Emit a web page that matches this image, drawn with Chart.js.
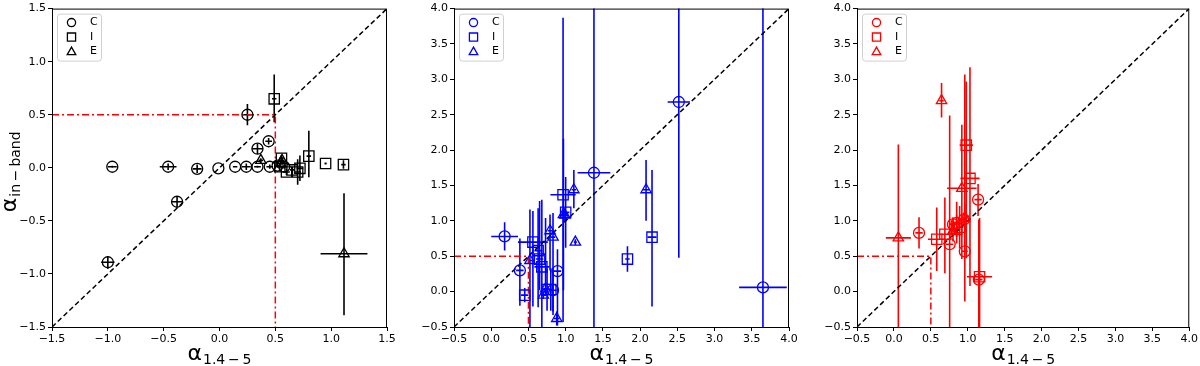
<!DOCTYPE html>
<html>
<head>
<meta charset="utf-8">
<script src="https://cdn.jsdelivr.net/npm/chart.js@4.4.1/dist/chart.umd.min.js"></script>
<style>
  body { margin: 0; background: #fff; width: 1200px; height: 366px; overflow: hidden; position: relative; }
  canvas { position: absolute; top: 0; }
</style>
</head>
<body>
<canvas id="p1" width="400" height="366" style="left:0px"></canvas>
<canvas id="p2" width="400" height="366" style="left:400px"></canvas>
<canvas id="p3" width="400" height="366" style="left:800px"></canvas>
<script>
// ---- data (alpha_1.4-5 on x, alpha_in-band on y) ----
const legendLabels = ['C', 'I', 'E']
const refLine = 0.5   // red dash-dot threshold

// panel 1 (black)
const p1cX    = [-0.96, -0.46, -0.20, -0.01, 0.14, 0.24, 0.34, 0.45, 0.44, 0.34, 0.25, -0.38, -1.00, 0.52, 0.58]
const p1cY    = [0.01, 0.01, -0.01, -0.005, 0.01, 0.01, 0.01, 0.01, 0.25, 0.18, 0.50, -0.32, -0.89, 0.02, 0.01]
const p1cXErr = [0.04, 0.075, 0.04, 0, 0.02, 0.04, 0.03, 0.03, 0.03, 0.05, 0.04, 0.05, 0.06, 0.03, 0.02]
const p1cYLo  = [0.01, 0.03, 0.04, 0, 0, 0.03, 0.01, 0.02, 0.03, 0.05, 0.10, 0.05, 0.06, 0.02, 0.02]
const p1cYHi  = [0.01, 0.03, 0.04, 0, 0, 0.03, 0.01, 0.02, 0.03, 0.05, 0.10, 0.05, 0.06, 0.02, 0.02]

const p1iX    = [0.49, 0.555, 0.54, 0.60, 0.70, 0.72, 0.80, 0.95, 1.11, 0.65]
const p1iY    = [0.65, 0.09, 0.01, -0.04, -0.04, -0.005, 0.11, 0.04, 0.03, -0.02]
const p1iXErr = [0.02, 0.02, 0.02, 0.03, 0.03, 0.03, 0.02, 0.01, 0.02, 0.02]
const p1iYLo  = [0.22, 0.03, 0.02, 0.03, 0.12, 0.12, 0.20, 0.01, 0.04, 0.03]
const p1iYHi  = [0.23, 0.03, 0.02, 0.03, 0.12, 0.12, 0.24, 0.01, 0.04, 0.03]

const p1eX    = [1.115, 0.37, 0.56, 0.55]
const p1eY    = [-0.81, 0.07, 0.07, 0.04]
const p1eXErr = [0.21, 0.02, 0.02, 0.01]
const p1eYLo  = [0.58, 0.02, 0.03, 0.02]
const p1eYHi  = [0.57, 0.02, 0.03, 0.02]

// panel 2 (blue)
const p2cX    = [0.18, 0.385, 0.89, 0.83, 1.38, 2.52, 3.65]
const p2cY    = [0.78, 0.30, 0.29, 0.02, 1.68, 2.68, 0.06]
const p2cXErr = [0.18, 0.05, 0.05, 0.05, 0.22, 0.15, 0.32]
const p2cYLo  = [0.20, 0.50, 0.77, 0.30, 2.50, 2.20, 1.00]
const p2cYHi  = [0.20, 0.45, 0.31, 0.30, 2.50, 2.50, 4.00]

const p2iX    = [0.965, 1.00, 2.16, 1.83, 0.45, 0.56, 0.63, 0.65, 0.68, 0.75, 0.80]
const p2iY    = [1.37, 1.12, 0.77, 0.46, -0.05, 0.70, 0.58, 0.46, 0.35, 0.03, 0.03]
const p2iXErr = [0.17, 0.05, 0.06, 0.03, 0.05, 0.20, 0.05, 0.05, 0.10, 0.04, 0.04]
const p2iYLo  = [1.80, 0.50, 0.98, 0.18, 0.10, 0.91, 0.80, 0.44, 0.90, 0.30, 0.30]
const p2iYHi  = [2.50, 0.50, 0.95, 0.18, 0.10, 0.44, 0.60, 0.82, 0.95, 0.30, 0.30]

const p2eX    = [1.11, 2.08, 1.13, 0.79, 0.83, 0.88, 0.70, 0.73, 0.97, 0.52, 0.99]
const p2eY    = [1.44, 1.44, 0.70, 0.86, 0.77, -0.38, -0.05, 0.04, 1.09, 0.44, 1.08]
const p2eXErr = [0.03, 0.04, 0.02, 0.03, 0.03, 0.04, 0.03, 0.03, 0.04, 0.03, 0.04]
const p2eYLo  = [0.26, 0.44, 0.04, 0.56, 1.10, 0.10, 0.05, 0.10, 1.07, 1.00, 0.10]
const p2eYHi  = [0.28, 0.42, 0.04, 0.23, 0.34, 0.10, 0.05, 1.00, 1.07, 0.72, 0.10]

// panel 3 (red)
const p3cX    = [0.34, 1.14, 0.96, 0.755, 0.80, 0.85, 1.15, 0.95]
const p3cY    = [0.83, 1.30, 0.57, 0.67, 0.95, 0.97, 0.17, 1.02]
const p3cXErr = [0.05, 0.05, 0.04, 0.05, 0.05, 0.05, 0.05, 0.04]
const p3cYLo  = [0.22, 0.23, 0.71, 1.20, 0.10, 0.20, 0.70, 0.10]
const p3cYHi  = [0.22, 0.22, 2.50, 1.82, 0.10, 0.30, 0.85, 0.10]

const p3iX    = [0.98, 1.03, 0.58, 0.69, 1.16, 0.89, 0.85]
const p3iY    = [2.07, 1.60, 0.74, 0.81, 0.21, 0.91, 0.88]
const p3iXErr = [0.09, 0.13, 0.12, 0.06, 0.17, 0.05, 0.05]
const p3iYLo  = [1.60, 1.52, 0.45, 0.55, 0.80, 0.30, 0.20]
const p3iYHi  = [0.90, 1.57, 0.45, 0.52, 0.83, 0.30, 0.20]

const p3eX    = [0.645, 0.06, 0.92, 0.96, 0.80]
const p3eY    = [2.70, 0.76, 1.46, 1.04, 0.86]
const p3eXErr = [0.03, 0.17, 0.20, 0.04, 0.04]
const p3eYLo  = [0.24, 1.30, 1.00, 0.20, 0.15]
const p3eYHi  = [0.25, 1.32, 0.90, 0.20, 0.15]

// ---- helpers ----
const fmt = v => (v < 0 ? '\u2212' : '') + Math.abs(v).toFixed(1)
const tickFont = { family: 'DejaVu Sans', size: 11 }

function pts(xs, ys) { return xs.map((x, i) => ({ x: x, y: ys[i] })) }

function markerSet(xs, ys, xe, lo, hi, style, r, color) {
  return {
    data: pts(xs, ys),
    pointStyle: style,
    pointRadius: r,
    pointHoverRadius: r,
    borderWidth: 1.3,
    borderColor: color,
    backgroundColor: 'rgba(0,0,0,0)',
    errX: xe, errLo: lo, errHi: hi
  }
}

function drawMarker(ctx, style, x, y, s) {
  ctx.beginPath()
  if (style == 'circle') ctx.arc(x, y, s, 0, Math.PI * 2)
  else if (style == 'rect') ctx.rect(x - s, y - s, 2 * s, 2 * s)
  else {
    ctx.moveTo(x, y - s * 1.1)
    ctx.lineTo(x + s * 1.05, y + s * 0.75)
    ctx.lineTo(x - s * 1.05, y + s * 0.75)
    ctx.closePath()
  }
  ctx.stroke()
}

// error bars drawn from the data through the scales
const errorBars = {
  id: 'errorBars',
  beforeDatasetsDraw(chart) {
    const { ctx, chartArea: a, scales: { x, y } } = chart
    ctx.save()
    ctx.beginPath()
    ctx.rect(a.left, a.top, a.right - a.left, a.bottom - a.top)
    ctx.clip()
    chart.data.datasets.forEach(ds => {
      if (!ds.errX) return
      ctx.strokeStyle = ds.borderColor
      ctx.lineWidth = 1.6
      ds.data.forEach((p, i) => {
        const px = x.getPixelForValue(p.x), py = y.getPixelForValue(p.y)
        ctx.beginPath()
        if (ds.errX[i]) {
          ctx.moveTo(x.getPixelForValue(p.x - ds.errX[i]), py)
          ctx.lineTo(x.getPixelForValue(p.x + ds.errX[i]), py)
        }
        if (ds.errLo[i] || ds.errHi[i]) {
          ctx.moveTo(px, y.getPixelForValue(p.y - ds.errLo[i]))
          ctx.lineTo(px, y.getPixelForValue(p.y + ds.errHi[i]))
        }
        ctx.stroke()
      })
    })
    ctx.restore()
  }
}

// frame, legend box and math-style axis titles
const decor = {
  id: 'decor',
  afterDraw(chart) {
    const { ctx, chartArea: a } = chart
    const o = chart.options.plugins.decor
    ctx.save()
    ctx.strokeStyle = '#000'
    ctx.lineWidth = 1
    ctx.strokeRect(a.left + 0.5, a.top + 0.5, a.right - a.left - 1, a.bottom - a.top)

    // legend
    const lx = a.left + 5, ly = a.top + 5, lw = 44, lh = 47
    ctx.beginPath()
    ctx.roundRect(lx + 0.5, ly + 0.5, lw, lh, 3)
    ctx.fillStyle = 'rgba(255,255,255,0.8)'
    ctx.fill()
    ctx.strokeStyle = '#d0d0d0'
    ctx.stroke()
    const styles = ['circle', 'rect', 'triangle']
    ctx.font = '11px "DejaVu Sans"'
    ctx.textBaseline = 'middle'
    legendLabels.forEach((lab, i) => {
      const my = ly + 9 + i * 14.5
      ctx.strokeStyle = o.color
      ctx.lineWidth = 1.3
      drawMarker(ctx, styles[i], lx + 14.5, my, 4.1)
      ctx.fillStyle = '#000'
      ctx.fillText(lab, lx + 33, my)
    })

    // x title: alpha_{1.4-5}
    ctx.fillStyle = '#000'
    ctx.textBaseline = 'alphabetic'
    const big = '22px "DejaVu Sans"', small = '14px "DejaVu Sans"'
    const sx = '1.4\u2009\u2212\u20095'
    ctx.font = big; const w1 = ctx.measureText('\u03b1').width
    ctx.font = small; const w2 = ctx.measureText(sx).width
    let cx = (a.left + a.right) / 2 - (w1 + 1 + w2) / 2
    ctx.font = big; ctx.fillText('\u03b1', cx, 360)
    ctx.font = small; ctx.fillText(sx, cx + w1 + 1, 364)

    // y title only on first panel
    if (o.yTitle) {
      const sy = 'in\u2009\u2212\u2009band'
      ctx.font = small; const w3 = ctx.measureText(sy).width
      ctx.translate(16, (a.top + a.bottom) / 2 + 4)
      ctx.rotate(-Math.PI / 2)
      const st = -(w1 + 1 + w3) / 2
      ctx.font = big; ctx.fillText('\u03b1', st, 0)
      ctx.font = small; ctx.fillText(sy, st + w1 + 1, 4)
    }
    ctx.restore()
  }
}

function axis(min, max, fitKey, fitVal) {
  return {
    type: 'linear', min: min, max: max,
    ticks: { stepSize: 0.5, callback: fmt, font: tickFont, color: '#000', padding: 2, autoSkip: false, maxRotation: 0 },
    grid: { display: true, drawOnChartArea: false, drawTicks: true, tickLength: 4, color: '#000' },
    border: { display: true, color: '#000', width: 1 },
    afterFit: s => { s[fitKey] = fitVal }
  }
}

function makePanel(id, color, lo, hi, sets, leftW, rightPad, yTitle) {
  const [c, i, e] = sets
  new Chart(document.getElementById(id), {
    type: 'scatter',
    data: {
      datasets: [
        markerSet(c[0], c[1], c[2], c[3], c[4], 'circle', 5.5, color),
        markerSet(i[0], i[1], i[2], i[3], i[4], 'rect', 7.3, color),
        markerSet(e[0], e[1], e[2], e[3], e[4], 'triangle', 6, color),
        {
          data: [{ x: lo, y: refLine }, { x: refLine, y: refLine }, { x: refLine, y: lo }],
          showLine: true, borderColor: '#ff0000', borderWidth: 1.5,
          borderDash: [7, 3, 2, 3], pointRadius: 0
        },
        {
          data: [{ x: lo, y: lo }, { x: hi, y: hi }],
          showLine: true, borderColor: '#000', borderWidth: 1.5,
          borderDash: [5, 3], pointRadius: 0
        }
      ]
    },
    options: {
      responsive: false,
      animation: false,
      devicePixelRatio: 1,
      layout: { padding: { top: 5, right: rightPad, left: 0, bottom: 0 } },
      scales: {
        x: axis(lo, hi, 'height', 39),
        y: axis(lo, hi, 'width', leftW)
      },
      plugins: {
        legend: { display: false },
        tooltip: { enabled: false },
        decor: { color: color, yTitle: yTitle }
      }
    },
    plugins: [errorBars, decor]
  })
}

makePanel('p1', '#000', -1.5, 1.5, [
  [p1cX, p1cY, p1cXErr, p1cYLo, p1cYHi],
  [p1iX, p1iY, p1iXErr, p1iYLo, p1iYHi],
  [p1eX, p1eY, p1eXErr, p1eYLo, p1eYHi]
], 52, 13, true)

makePanel('p2', '#0000ff', -0.5, 4.0, [
  [p2cX, p2cY, p2cXErr, p2cYLo, p2cYHi],
  [p2iX, p2iY, p2iXErr, p2iYLo, p2iYHi],
  [p2eX, p2eY, p2eXErr, p2eYLo, p2eYHi]
], 54, 11, false)

makePanel('p3', '#ff0000', -0.5, 4.0, [
  [p3cX, p3cY, p3cXErr, p3cYLo, p3cYHi],
  [p3iX, p3iY, p3iXErr, p3iYLo, p3iYHi],
  [p3eX, p3eY, p3eXErr, p3eYLo, p3eYHi]
], 57, 9, false)
</script>
</body>
</html>
